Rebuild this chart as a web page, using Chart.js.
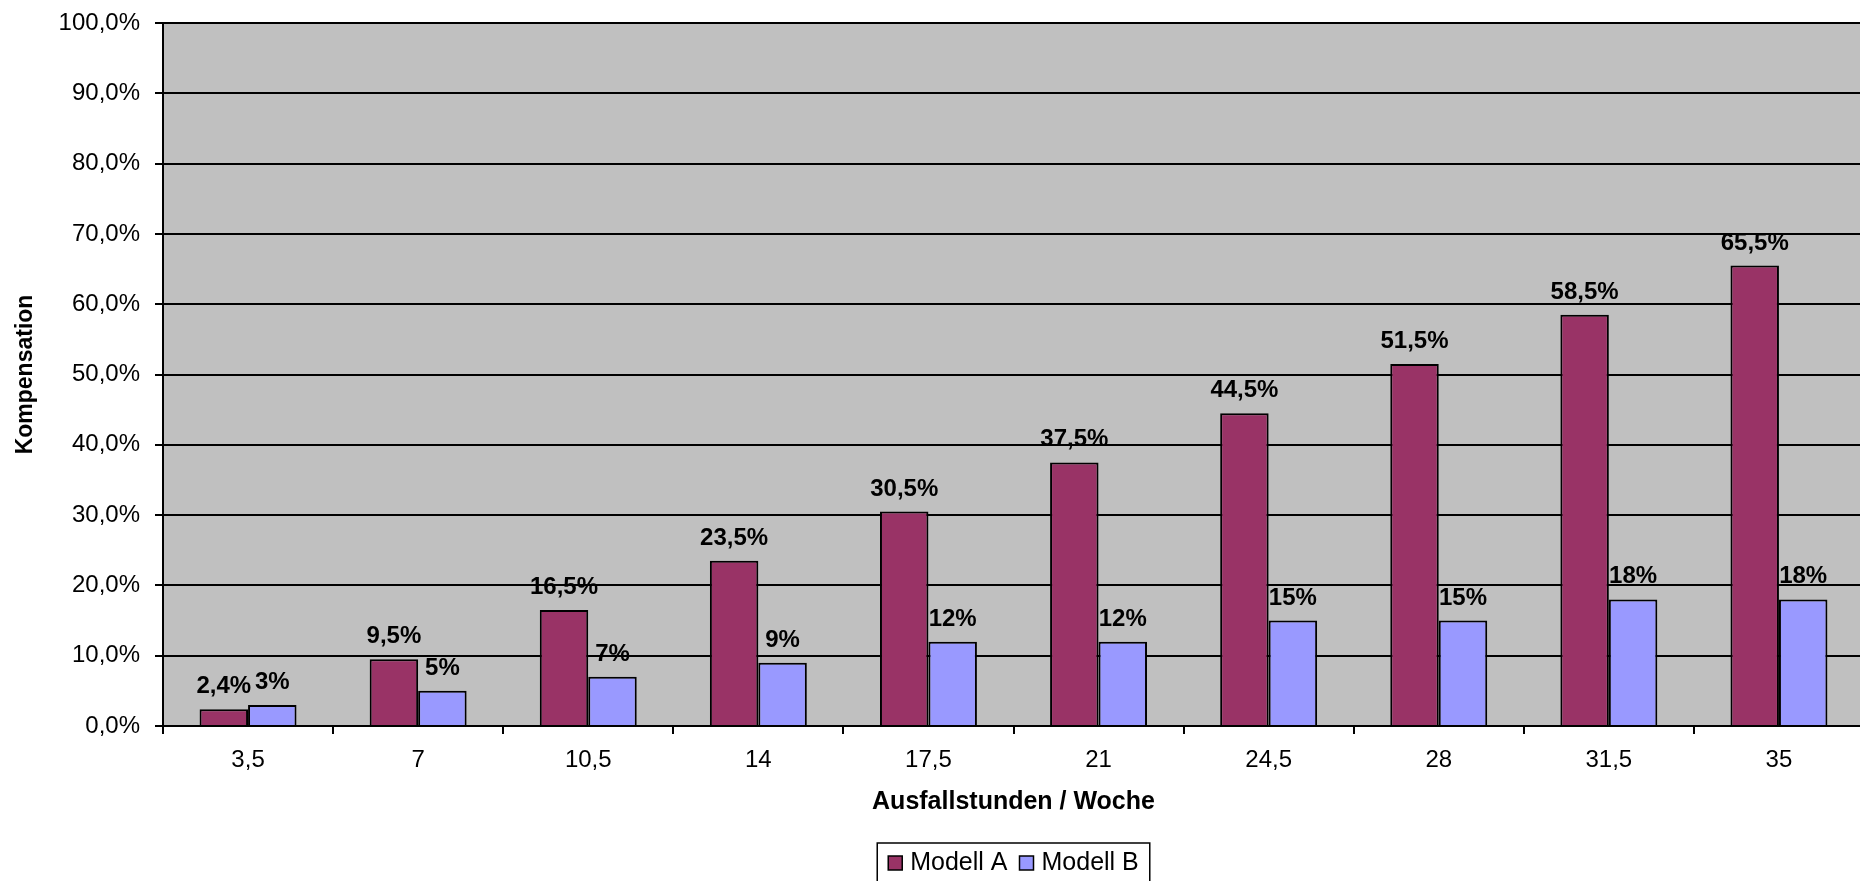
<!DOCTYPE html>
<html>
<head>
<meta charset="utf-8">
<title>Kompensation</title>
<script src="https://cdn.jsdelivr.net/npm/chart.js@4/dist/chart.umd.min.js"></script>
<style>
  html, body { margin: 0; padding: 0; background: #fff; overflow: hidden; }
  #wrap { position: absolute; left: 0; top: 0; width: 1880px; height: 881px; }
</style>
</head>
<body>
<div id="wrap"><canvas id="chart"></canvas></div>
<script>
const stunden = ['3,5', '7', '10,5', '14', '17,5', '21', '24,5', '28', '31,5', '35'];
const modellA = [2.4, 9.5, 16.5, 23.5, 30.5, 37.5, 44.5, 51.5, 58.5, 65.5];
const modellB = [3, 5, 7, 9, 12, 12, 15, 15, 18, 18];
const nachkomma = [1, 0]; // Stellen der Wertbeschriftung je Modell
const yMax = 100;
const yStep = 10;

const FONT = "'Liberation Sans', Arial, sans-serif";

function komma(v, stellen) {
    return v.toFixed(stellen).replace('.', ',');
}

// grauer Hintergrund der Zeichenfläche
const plotBackground = {
    id: 'plotBackground',
    beforeDraw(chart) {
        const { ctx, chartArea: a } = chart;
        ctx.save();
        ctx.fillStyle = '#c0c0c0';
        ctx.fillRect(a.left, a.top, a.right - a.left, a.bottom - a.top);
        ctx.restore();
    }
};

// Prozentwerte über den Säulen
const valueLabels = {
    id: 'valueLabels',
    afterDatasetsDraw(chart) {
        const ctx = chart.ctx;
        ctx.save();
        ctx.font = 'bold 24px ' + FONT;
        ctx.fillStyle = '#000';
        ctx.textAlign = 'center';
        ctx.textBaseline = 'alphabetic';
        chart.data.datasets.forEach((ds, i) => {
            chart.getDatasetMeta(i).data.forEach((bar, j) => {
                ctx.fillText(komma(ds.data[j], nachkomma[i]) + '%', bar.x, bar.y - 16);
            });
        });
        ctx.restore();
    }
};

// Legende mit Rahmen unter der Achse
const boxLegend = {
    id: 'boxLegend',
    afterDraw(chart) {
        const { ctx, chartArea: a } = chart;
        const box = 14, gapText = 8, gapItem = 12, padX = 11;
        ctx.save();
        ctx.font = '25px ' + FONT;
        const items = chart.data.datasets.map(ds => ({
            text: ds.label,
            color: ds.backgroundColor,
            w: ctx.measureText(ds.label).width
        }));
        let total = padX * 2;
        items.forEach((it, i) => {
            total += box + gapText + it.w + (i > 0 ? gapItem : 0);
        });
        const cx = (a.left + a.right) / 2;
        const top = a.bottom + 117;
        let x = cx - total / 2;
        ctx.strokeStyle = '#000';
        ctx.lineWidth = 1.5;
        ctx.strokeRect(x, top, total, 44);
        x += padX;
        const mid = top + 20;
        ctx.textBaseline = 'middle';
        items.forEach((it, i) => {
            if (i > 0) x += gapItem;
            ctx.fillStyle = it.color;
            ctx.fillRect(x, mid - box / 2, box, box);
            ctx.lineWidth = 1.5;
            ctx.strokeRect(x, mid - box / 2, box, box);
            x += box + gapText;
            ctx.fillStyle = '#000';
            ctx.fillText(it.text, x, mid);
            x += it.w;
        });
        ctx.restore();
    }
};

Chart.defaults.font.family = FONT;
Chart.defaults.color = '#000';

new Chart(document.getElementById('chart'), {
    type: 'bar',
    data: {
        labels: stunden,
        datasets: [
            {
                label: 'Modell A',
                data: modellA,
                backgroundColor: '#993366',
                borderColor: '#000',
                borderWidth: 2,
                categoryPercentage: 0.57,
                barPercentage: 1.0
            },
            {
                label: 'Modell B',
                data: modellB,
                backgroundColor: '#9999ff',
                borderColor: '#000',
                borderWidth: 2,
                categoryPercentage: 0.57,
                barPercentage: 1.0
            }
        ]
    },
    options: {
        responsive: true,
        maintainAspectRatio: false,
        animation: false,
        layout: {
            padding: { top: 23, right: 16, bottom: 64, left: 0 }
        },
        plugins: {
            legend: { display: false },
            tooltip: { enabled: false }
        },
        scales: {
            x: {
                afterFit(scale) { scale.height = 91; },
                grid: {
                    drawOnChartArea: false,
                    drawTicks: true,
                    tickLength: 8,
                    color: '#000',
                    lineWidth: 2
                },
                border: { color: '#000', width: 2 },
                ticks: {
                    font: { size: 24 },
                    padding: 12,
                    maxRotation: 0
                },
                title: {
                    display: true,
                    text: 'Ausfallstunden / Woche',
                    font: { size: 25, weight: 'bold' },
                    padding: { top: 0, bottom: 0 }
                }
            },
            y: {
                min: 0,
                max: yMax,
                afterFit(scale) {
                    scale.width = 163;
                    // oberen Rand allein über layout.padding steuern
                    scale.paddingTop = 0;
                    scale.paddingBottom = 0;
                },
                grid: {
                    color: '#000',
                    lineWidth: 2,
                    tickLength: 8
                },
                border: { color: '#000', width: 2 },
                ticks: {
                    stepSize: yStep,
                    font: { size: 24 },
                    padding: 15,
                    callback: v => komma(v, 1) + '%'
                },
                title: {
                    display: true,
                    text: 'Kompensation',
                    font: { size: 23, weight: 'bold' },
                    padding: { top: 12, bottom: 0 }
                }
            }
        }
    },
    plugins: [plotBackground, valueLabels, boxLegend]
});
</script>
</body>
</html>
